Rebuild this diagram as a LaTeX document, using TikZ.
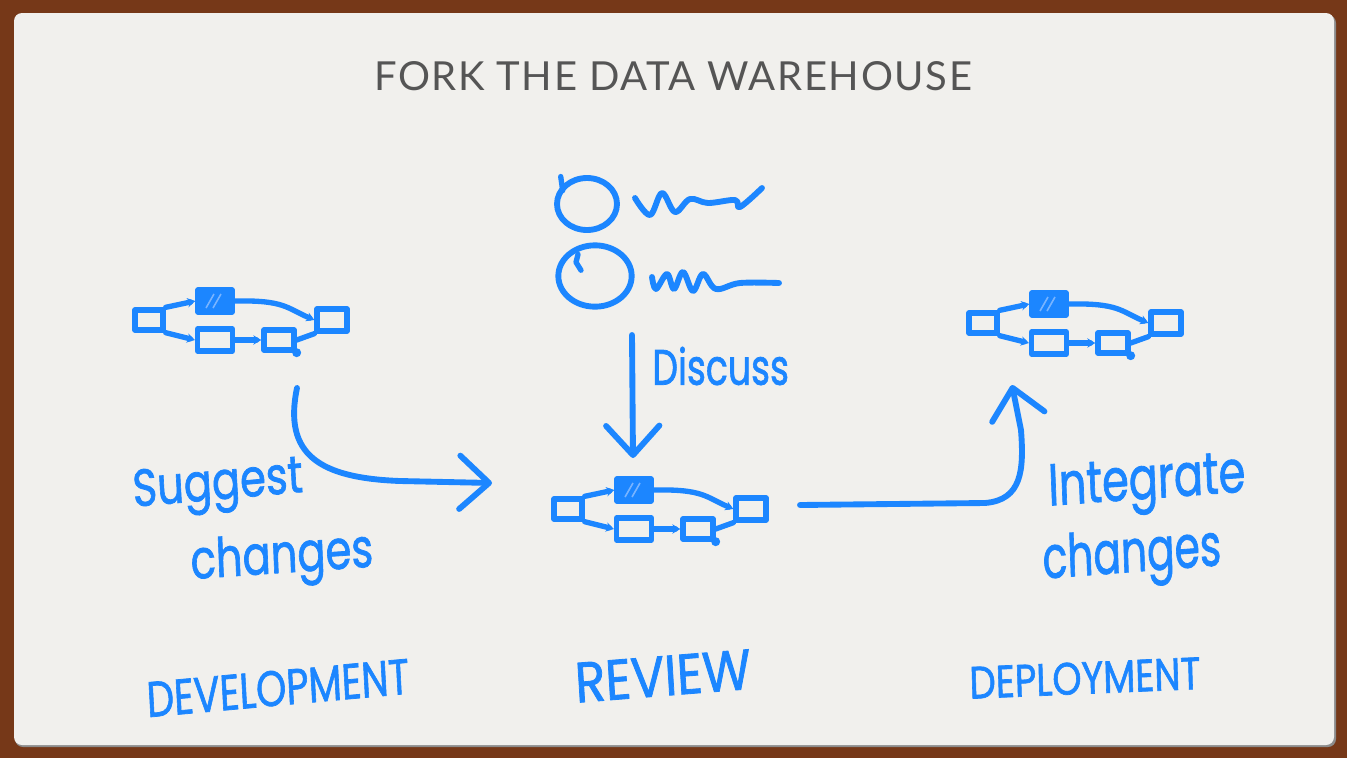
\documentclass[tikz,border=0pt]{standalone}
\usepackage{fontspec}
\usetikzlibrary{arrows.meta,positioning,shapes.geometric,calc}
\newfontfamily\titlefont[LetterSpace=4]{Lato}
\newfontfamily\handfont[FakeBold=1.5]{Poppins}
\definecolor{penblue}{RGB}{28,134,255}
\definecolor{hatchblue}{RGB}{120,180,255}
\definecolor{woodframe}{RGB}{118,56,24}
\definecolor{paper}{RGB}{241,240,237}
\definecolor{inkgray}{RGB}{85,85,85}

\tikzset{every picture/.style={line width=0.75pt}}
\tikzset{
  pen/.style={draw=penblue, line width=4pt, line cap=round, line join=round},
  dagbox/.style={pen, rectangle, inner sep=0pt},
  dagedge/.style={pen, -{Stealth[length=6pt,width=7pt]}},
  barb/.style={pen, line width=4.4pt, -{Straight Barb[length=22pt,width=40pt,round]}},
  handtext/.style={text=penblue, font=\handfont\fontsize{34}{40}\selectfont, inner sep=0pt},
  % pics are not flipped by yscale=-1, so y points up in here
  dagmini/.pic={
    \node[dagbox, minimum width=21pt, minimum height=15pt] (-src) at (0,0) {};
    \node[dagbox, fill=penblue, minimum width=25.5pt, minimum height=16.5pt] (-top) at (66,19) {};
    \node[dagbox, minimum width=26pt, minimum height=16.5pt] (-mida) at (66,-20) {};
    \node[dagbox, minimum width=22.5pt, minimum height=15pt] (-midb) at (130,-20) {};
    \node[dagbox, minimum width=22.5pt, minimum height=16.5pt] (-sink) at (183,0) {};
    % hatching on the changed table
    \draw[draw=hatchblue, line width=1.2pt] (-top.center) ++(-9,-7) -- ++(8,14);
    \draw[draw=hatchblue, line width=1.2pt] (-top.center) ++(-2,-7) -- ++(8,14);
    \fill[penblue] (-midb.south east) circle (4.5);
    \draw[dagedge] (-src.north east) -- (-top.west);
    \draw[dagedge] (-src.south east) -- (-mida.west);
    \draw[dagedge] (-mida.east) -- (-midb.west);
    \draw[pen] (-midb.east) -- (-sink.south west);
    \draw[dagedge] (-top.east) .. controls +(50,1) and +(-28,12) .. (-sink.west);
  }
}

\begin{document}
\begin{tikzpicture}[x=0.75pt,y=0.75pt,yscale=-1,xscale=1]
\useasboundingbox (0,0) rectangle (1347,758);

%Shape: Frame
\fill[woodframe] (0,0) rectangle (1347,758);
\fill[black!45, rounded corners=6] (15,15) rectangle (1336,747);
\fill[paper, rounded corners=6] (14,13) rectangle (1334,745);

% Title
\node[text=inkgray, font=\titlefont\fontsize{30}{36}\selectfont] (title) at (673,76) {FORK THE DATA WAREHOUSE};

% Pipelines
\pic (dev) at (149,320) {dagmini};
\pic (rev) at (568,509) {dagmini};
\pic (dep) at (983,323) {dagmini};

%Shape: Comments
\node[ellipse, pen, line width=4.4pt, minimum width=45pt, minimum height=39pt, inner sep=0pt] (cmta) at (587,204) {};
\node[ellipse, pen, line width=4.4pt, minimum width=55pt, minimum height=46pt, inner sep=0pt] (cmtb) at (595,276) {};
\draw[pen] (cmta.north west) ++(-3,-7) -- ++(2,14);
\draw[pen] (cmtb.north west) ++(11,2) -- ++(-2,8) -- ++(5,8);
\draw[pen, line width=4.4pt] plot[smooth, tension=0.6] coordinates {(635,198) (650,215) (662,193) (675,212) (690,199) (708,203) (735,200) (740,207) (762,188)};
\draw[pen, line width=4.4pt] plot[smooth, tension=0.6] coordinates {(652,277) (656,289) (667,274) (674,289) (683,272) (693,291) (703,274) (716,289) (740,283) (779,283)};

% Connectors
\coordinate (devout) at (297,388);
\coordinate (revin) at (492,483);
\coordinate (disctop) at (632,335);
\coordinate (revtop) at (633,458);
\coordinate (revout) at (800,505);
\coordinate (depin) at (1012,385);

\draw[barb] (devout) .. controls (283,455) and (320,478) .. (400,481) -- (revin);
\draw[barb] (disctop) -- (revtop);
\draw[barb] (revout) -- (985,503) .. controls (1022,500) and (1024,470) .. (1021,430) -- (depin);

% Text Node
\node[handtext, xscale=0.92, yscale=1.15, rotate=4] (suggest) at (218,488) {Suggest};
\node[handtext, xscale=0.92, yscale=1.2, rotate=3] (chgdev) at (282,560) {changes};
\node[handtext, xscale=0.8, yscale=1.1, anchor=west] (discuss) at (652,366) {Discuss};
\node[handtext, xscale=0.95, yscale=1.3, rotate=3] (integrate) at (1147,486) {Integrate};
\node[handtext, xscale=0.9, yscale=1.3, rotate=3] (chgdep) at (1132,558) {changes};
\node[handtext, xscale=0.85, yscale=1.1, rotate=4] (devlabel) at (278,688) {DEVELOPMENT};
\node[handtext, xscale=1.1, yscale=1.25, rotate=4] (revlabel) at (663,676) {REVIEW};
\node[handtext, xscale=0.82, rotate=2] (deplabel) at (1085,678) {DEPLOYMENT};
\end{tikzpicture}
\end{document}
